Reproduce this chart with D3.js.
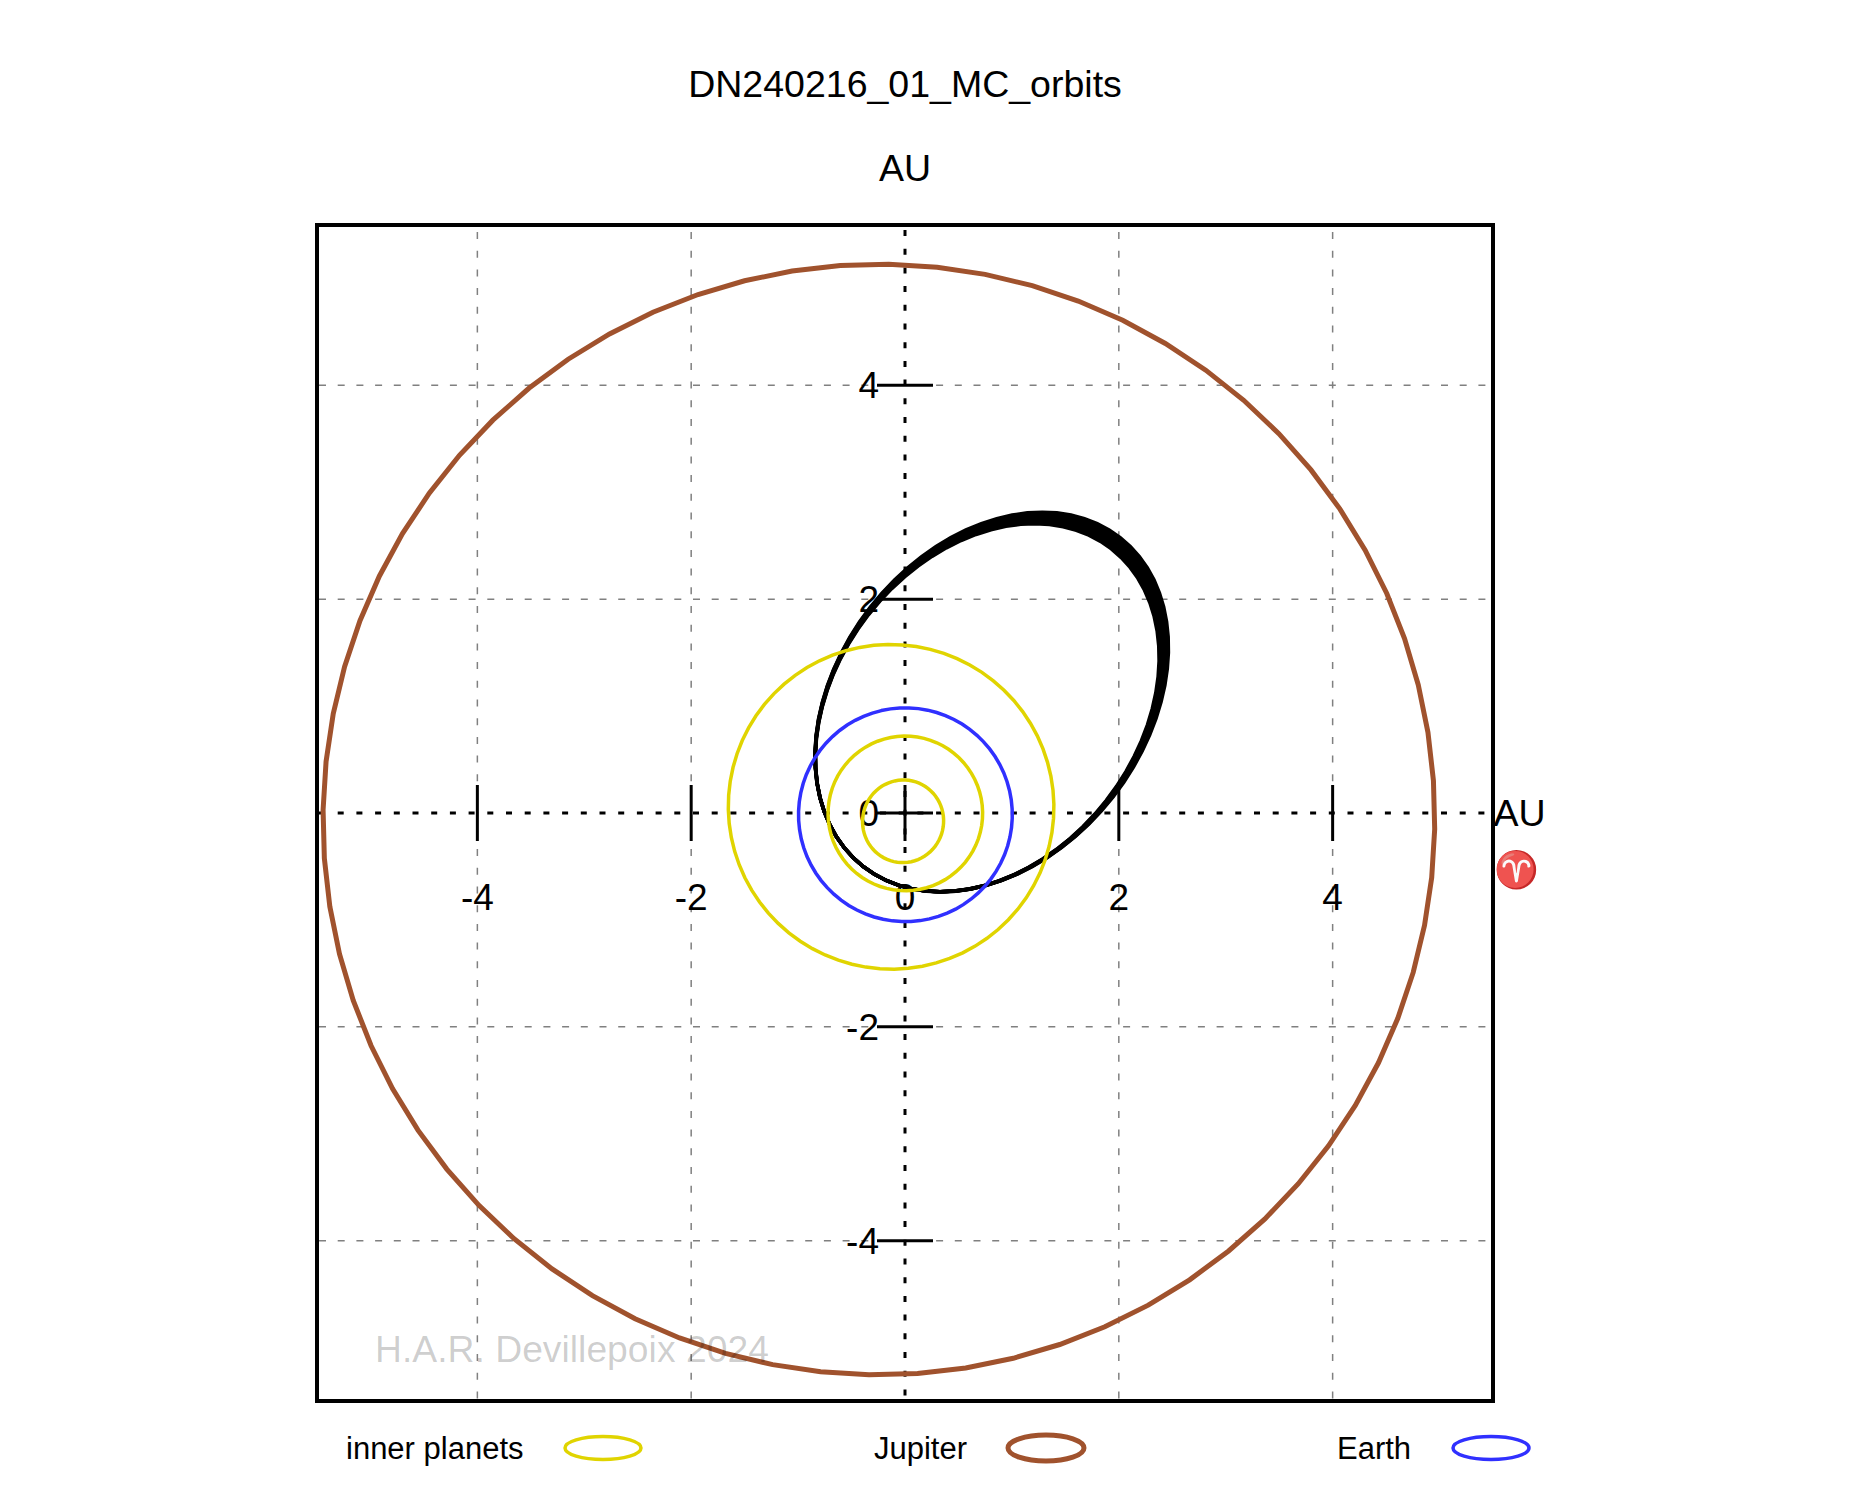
<!DOCTYPE html>
<html>
<head>
<meta charset="utf-8">
<script src="https://cdnjs.cloudflare.com/ajax/libs/d3/7.8.5/d3.min.js"></script>
<style>
  html, body { margin: 0; padding: 0; background: #fff; }
  text { font-family: "Liberation Sans", Arial, sans-serif; fill: #000; }
</style>
</head>
<body>
<svg id="chart" width="1875" height="1500"></svg>
<script>
// Planet orbital elements in the ecliptic plane
const planetNames = ["Mercury", "Venus", "Mars", "Earth", "Jupiter"];
const semiMajorAxis = [0.387, 0.723, 1.524, 1.0, 5.2];
const eccentricity = [0.2056, 0.0068, 0.0934, 0.0167, 0.0484];
const perihelionLongitude = [77, 131, 336, 103, 14];
const planetColors = ["#e0d400", "#e0d400", "#e0d400", "#3030ff", "#a0522d"];
const planetWidths = [3.5, 3.5, 3.5, 3.5, 5];

// Monte Carlo clones of the meteoroid orbit: perihelion and aphelion distance (AU)
const clonePerihelion = [0.635, 0.635, 0.635, 0.635, 0.635, 0.635, 0.635];
const cloneAphelion = [3.135, 3.157, 3.18, 3.203, 3.226, 3.248, 3.27];
const cloneApsisLongitude = [232, 232, 232, 232, 232, 232, 232];

const tickValues = [-4, -2, 0, 2, 4];
const legendLabels = ["inner planets", "Jupiter", "Earth"];
const legendColors = ["#e0d400", "#a0522d", "#3030ff"];
const legendWidths = [3.5, 5, 3.5];

const svg = d3.select("#chart");
const box = { left: 317, top: 225, right: 1493, bottom: 1401 };
const x = d3.scaleLinear().domain([-5.5, 5.5]).range([box.left, box.right]);
const y = d3.scaleLinear().domain([-5.5, 5.5]).range([box.bottom, box.top]);

// Heliocentric ellipse traced through 72 anomaly steps
const anomalies = d3.range(0, 360, 5);
function orbitPoints(a, e, peri) {
  const w = peri * Math.PI / 180;
  return anomalies.map(deg => {
    const E = deg * Math.PI / 180;
    const px = a * (Math.cos(E) - e);
    const py = a * Math.sqrt(1 - e * e) * Math.sin(E);
    return [px * Math.cos(w) - py * Math.sin(w), px * Math.sin(w) + py * Math.cos(w)];
  });
}
const orbitLine = d3.line().x(d => x(d[0])).y(d => y(d[1])).curve(d3.curveLinearClosed);

// Grid
const grid = svg.append("g").attr("stroke", "#808080").attr("stroke-width", 1.5)
  .attr("stroke-dasharray", "7 11.7").attr("fill", "none");
grid.selectAll(".v").data(tickValues.filter(d => d !== 0)).join("line")
  .attr("x1", d => x(d)).attr("x2", d => x(d)).attr("y1", box.top + 7).attr("y2", box.bottom);
grid.selectAll(".h").data(tickValues.filter(d => d !== 0)).join("line")
  .attr("y1", d => y(d)).attr("y2", d => y(d)).attr("x1", box.left + 2).attr("x2", box.right);

// Zero axes
const axes = svg.append("g").attr("stroke", "#000").attr("stroke-width", 3)
  .attr("stroke-dasharray", "6 12.7");
axes.append("line").attr("x1", box.left + 2).attr("x2", box.right).attr("y1", y(0)).attr("y2", y(0));
axes.append("line").attr("x1", x(0)).attr("x2", x(0)).attr("y1", box.top + 5).attr("y2", box.bottom);

// Tick marks centred on the axes
const ticks = svg.append("g").attr("stroke", "#000").attr("stroke-width", 3);
ticks.selectAll(".tx").data(tickValues).join("line")
  .attr("x1", d => x(d)).attr("x2", d => x(d)).attr("y1", y(0) - 28).attr("y2", y(0) + 28);
ticks.selectAll(".ty").data(tickValues).join("line")
  .attr("y1", d => y(d)).attr("y2", d => y(d)).attr("x1", x(0) - 28).attr("x2", x(0) + 28);

// Tick labels
svg.append("g").selectAll("text").data(tickValues).join("text")
  .attr("x", d => x(d)).attr("y", y(0) + 84)
  .attr("dy", "0.35em").attr("text-anchor", "middle").attr("font-size", 37)
  .text(d => d);
svg.append("g").selectAll("text").data(tickValues).join("text")
  .attr("x", x(0) - 26).attr("y", d => y(d))
  .attr("dy", "0.35em").attr("text-anchor", "end").attr("font-size", 37)
  .text(d => d);

// Meteoroid orbit clones
svg.append("g").attr("fill", "none").attr("stroke", "#000").attr("stroke-width", 3.5)
  .selectAll("path").data(d3.range(cloneAphelion.length)).join("path")
  .attr("d", i => {
    const q = clonePerihelion[i], Q = cloneAphelion[i];
    return orbitLine(orbitPoints((q + Q) / 2, (Q - q) / (Q + q), cloneApsisLongitude[i]));
  });

// Planet orbits
svg.append("g").attr("fill", "none").selectAll("path").data(planetNames).join("path")
  .attr("class", d => d)
  .attr("stroke", (d, i) => planetColors[i])
  .attr("stroke-width", (d, i) => planetWidths[i])
  .attr("d", (d, i) => orbitLine(orbitPoints(semiMajorAxis[i], eccentricity[i], perihelionLongitude[i])));

// Frame
svg.append("rect").attr("x", box.left).attr("y", box.top)
  .attr("width", box.right - box.left).attr("height", box.bottom - box.top)
  .attr("fill", "none").attr("stroke", "#000").attr("stroke-width", 4);

// Titles and axis names
svg.append("text").attr("x", 905).attr("y", 84).attr("dy", "0.35em").attr("text-anchor", "middle")
  .attr("font-size", 37.5).text("DN240216_01_MC_orbits");
svg.append("text").attr("x", 905).attr("y", 168).attr("dy", "0.35em").attr("text-anchor", "middle")
  .attr("font-size", 37.5).text("AU");
svg.append("text").attr("x", 1493.5).attr("y", 813).attr("dy", "0.35em")
  .attr("font-size", 37.5).text("AU");
svg.append("text").attr("x", 1516.5).attr("y", 869).attr("dy", "0.35em").attr("text-anchor", "middle")
  .attr("font-size", 36).style("font-family", '"Noto Color Emoji", "Liberation Sans"').text("\u2648");

// Attribution
svg.append("text").attr("x", 375).attr("y", 1362)
  .attr("font-size", 37.3).style("fill", "#000").style("fill-opacity", 0.2)
  .text("H.A.R. Devillepoix 2024");

// Legend
const legendTextX = [346, 874, 1337];
const legendKeyX = [603, 1046, 1491];
const legendKeyRy = [11.5, 13, 11.5];
legendLabels.forEach((label, i) => {
  svg.append("text").attr("x", legendTextX[i]).attr("y", 1448).attr("dy", "0.35em")
    .attr("font-size", 31).text(label);
  svg.append("ellipse").attr("cx", legendKeyX[i]).attr("cy", 1448).attr("rx", 38).attr("ry", legendKeyRy[i])
    .attr("fill", "none").attr("stroke", legendColors[i]).attr("stroke-width", legendWidths[i]);
});
</script>
</body>
</html>
